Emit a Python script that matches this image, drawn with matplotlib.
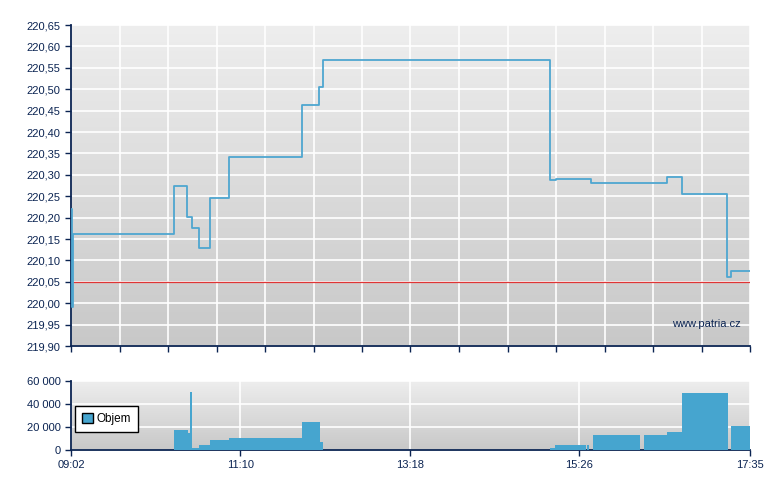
import numpy as np
import matplotlib.pyplot as plt
from matplotlib.patches import Patch
from matplotlib.colors import LinearSegmentedColormap

# minutes after 09:02 (session ends 17:35 = 513 min)
price_t = [0, 0.8, 1.5, 77.8, 87.9, 91.2, 96.9, 105.0, 119.1, 174.8, 187.6, 190.4,
           361.9, 366.4, 392.6, 450.1, 461.6, 495.8, 498.4, 513]
price_v = [220.22, 219.99, 220.162, 220.274, 220.201, 220.176, 220.129, 220.246, 220.341,
           220.464, 220.505, 220.568, 220.288, 220.291, 220.281, 220.295, 220.256,
           220.062, 220.076, 220.076]
ref_price = 220.05

vol_start = [77.8, 88.2, 90.0, 91.3, 96.9, 105.0, 119.4, 174.5, 188.1,
             361.9, 365.7, 389.5, 394.4, 432.9, 450.3, 461.6, 498.4]
vol_end = [88.2, 90.0, 91.3, 96.9, 105.0, 119.4, 174.5, 188.1, 190.2,
           365.7, 389.1, 391.5, 429.9, 450.3, 461.6, 496.2, 513]
vol_value = [17500, 15000, 50000, 2000, 4500, 8800, 10500, 24000, 7000,
             1800, 4500, 4500, 13000, 13000, 15500, 49000, 21000]

time_ticks = [0, 128, 256, 384, 513]
time_labels = ['09:02', '11:10', '13:18', '15:26', '17:35']

navy = '#0b2452'
line_c = '#4ea6d0'
bar_c = '#46a5cf'

plt.rcParams['font.family'] = ['Liberation Sans', 'DejaVu Sans']

fig = plt.figure(figsize=(7.8, 4.9), dpi=100)
ax1 = fig.add_axes([71/780, 1-346/490, 679/780, 321/490])
ax2 = fig.add_axes([71/780, 1-450/490, 679/780, 69.3/490])
bg = LinearSegmentedColormap.from_list('g', ['#eeeeee', '#c8c8c8'])


def style(ax):
    grad = np.linspace(0, 1, 256).reshape(-1, 1)
    ax.imshow(grad, extent=[0, 1, 0, 1], transform=ax.transAxes, aspect='auto',
              cmap=bg, zorder=0)
    for s in ['top', 'right']:
        ax.spines[s].set_visible(False)
    for s in ['left', 'bottom']:
        ax.spines[s].set_color(navy)
        ax.spines[s].set_linewidth(1.3)
    ax.tick_params(colors=navy, labelsize=8, length=4, width=1, direction='out')
    ax.set_axisbelow(True)
    ax.grid(True, color='white', lw=1.2)


# price chart
style(ax1)
ax1.step(price_t, price_v, where='post', color=line_c, lw=1.3, zorder=4)
ax1.axhline(ref_price, color='#e03535', lw=0.9, zorder=3)
ax1.set_xlim(0, 513)
ax1.set_ylim(219.90, 220.65)
yt = np.round(np.arange(219.90, 220.651, 0.05), 2)
ax1.set_yticks(yt)
ax1.set_yticklabels([f'{v:.2f}'.replace('.', ',') for v in yt])
ax1.set_xticks(np.linspace(0, 513, 15))
ax1.set_xticklabels([])
ax1.text(0.987, 0.07, 'www.patria.cz', transform=ax1.transAxes, ha='right', va='center',
         color=navy, fontsize=8, zorder=5)

# volume chart
style(ax2)
ax2.bar(vol_start, np.array(vol_value), width=np.array(vol_end) - np.array(vol_start),
        align='edge', color=bar_c, lw=0, zorder=3)
ax2.set_xlim(0, 513)
ax2.set_ylim(0, 60000)
ax2.set_yticks([0, 20000, 40000, 60000])
ax2.set_yticklabels(['0', '20 000', '40 000', '60 000'])
ax2.set_xticks(time_ticks)
ax2.set_xticklabels(time_labels)
leg = ax2.legend(handles=[Patch(facecolor=bar_c, edgecolor='black', lw=1, label='Objem')],
                 loc='center left', bbox_to_anchor=(0.006, 0.45), borderaxespad=0,
                 fontsize=8.5, fancybox=False, framealpha=1, edgecolor='black',
                 handlelength=0.9, handleheight=0.9, handletextpad=0.3, borderpad=0.6)
leg.get_frame().set_linewidth(1)
leg.set_zorder(5)

fig.savefig('out.png', dpi=100)
